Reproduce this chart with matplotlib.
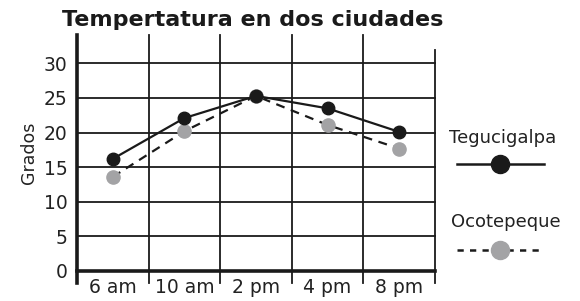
import matplotlib
matplotlib.use("Agg")
import matplotlib.pyplot as plt
from matplotlib.lines import Line2D

categories = ["6 am", "10 am", "2 pm", "4 pm", "8 pm"]
tegucigalpa = [16.2, 22.1, 25.3, 23.5, 20.1]
ocotepeque = [13.6, 20.2, 25.3, 21.1, 17.7]
yticks = [0, 5, 10, 15, 20, 25, 30]

plt.rcParams['font.family'] = ['DejaVu Sans']
fig = plt.figure(figsize=(5.8, 3.01), dpi=100)
W, H = 580, 301
ax = fig.add_axes([77 / W, 1 - 271 / H, (435 - 77) / W, (271 - 35) / H])

x = list(range(len(categories)))
ax.set_xlim(-0.5, len(categories) - 0.5)
ax.set_ylim(0, 34.1)

# horizontal grid lines
for v in yticks[1:]:
    ax.plot([-0.5, 4.5], [v, v], color="#1a1a1a", lw=1.3, zorder=1, clip_on=False)
# vertical grid lines (extend below axis as ticks)
for xv in [0.5, 1.5, 2.5, 3.5]:
    ax.plot([xv, xv], [-1.7, 34.1], color="#1a1a1a", lw=1.3, zorder=1, clip_on=False)
# right border
ax.plot([4.5, 4.5], [-1.7, 32.0], color="#1a1a1a", lw=1.3, zorder=1, clip_on=False)
# left and bottom thick axis lines
ax.plot([-0.5, -0.5], [-1.7, 34.1], color="#1a1a1a", lw=2.6, zorder=2, clip_on=False)
ax.plot([-0.5, 4.5], [0, 0], color="#1a1a1a", lw=2.6, zorder=2, clip_on=False)

for s in ax.spines.values():
    s.set_visible(False)

ax.plot(x, ocotepeque, color="#1a1a1a", lw=1.6, ls=(0, (4, 3)), zorder=3)
ax.plot(x, ocotepeque, ls="none", marker="o", ms=9.5, color="#a3a3a5", zorder=4)
ax.plot(x, tegucigalpa, color="#1a1a1a", lw=1.6, zorder=5,
        marker="o", ms=9, mfc="#1a1a1a", mec="#1a1a1a")

ax.set_yticks(yticks)
ax.set_yticklabels([str(v) for v in yticks], fontsize=13.5, color="#222222")
ax.set_xticks(x)
ax.set_xticklabels(categories, fontsize=13.5, color="#222222")
ax.tick_params(axis="both", length=0)
ax.tick_params(axis="y", pad=7)
ax.tick_params(axis="x", pad=5)

ax.set_ylabel("Grados", fontsize=12.5, color="#222222", labelpad=4)

fig.text(0.5 * (62 + 443) / W, 1 - 20 / H, "Tempertatura en dos ciudades",
         fontsize=16, fontweight="bold", ha="center", va="center", color="#1a1a1a")

# custom legend
fig.text(503 / W, 1 - 138 / H, "Tegucigalpa", fontsize=13, ha="center", va="center", color="#222222")
fig.add_artist(Line2D([457 / W, 544 / W], [1 - 164 / H, 1 - 164 / H], transform=fig.transFigure,
                      color="#1a1a1a", lw=1.8))
fig.add_artist(Line2D([500 / W], [1 - 164 / H], transform=fig.transFigure, ls="none",
                      marker="o", ms=13, color="#1a1a1a"))
fig.text(506 / W, 1 - 222 / H, "Ocotepeque", fontsize=13, ha="center", va="center", color="#222222")
fig.add_artist(Line2D([457 / W, 544 / W], [1 - 250 / H, 1 - 250 / H], transform=fig.transFigure,
                      color="#1a1a1a", lw=1.8, ls=(0, (2.5, 2.5))))
fig.add_artist(Line2D([500 / W], [1 - 250 / H], transform=fig.transFigure, ls="none",
                      marker="o", ms=13, color="#a3a3a5"))

fig.savefig("out.png", dpi=100)
